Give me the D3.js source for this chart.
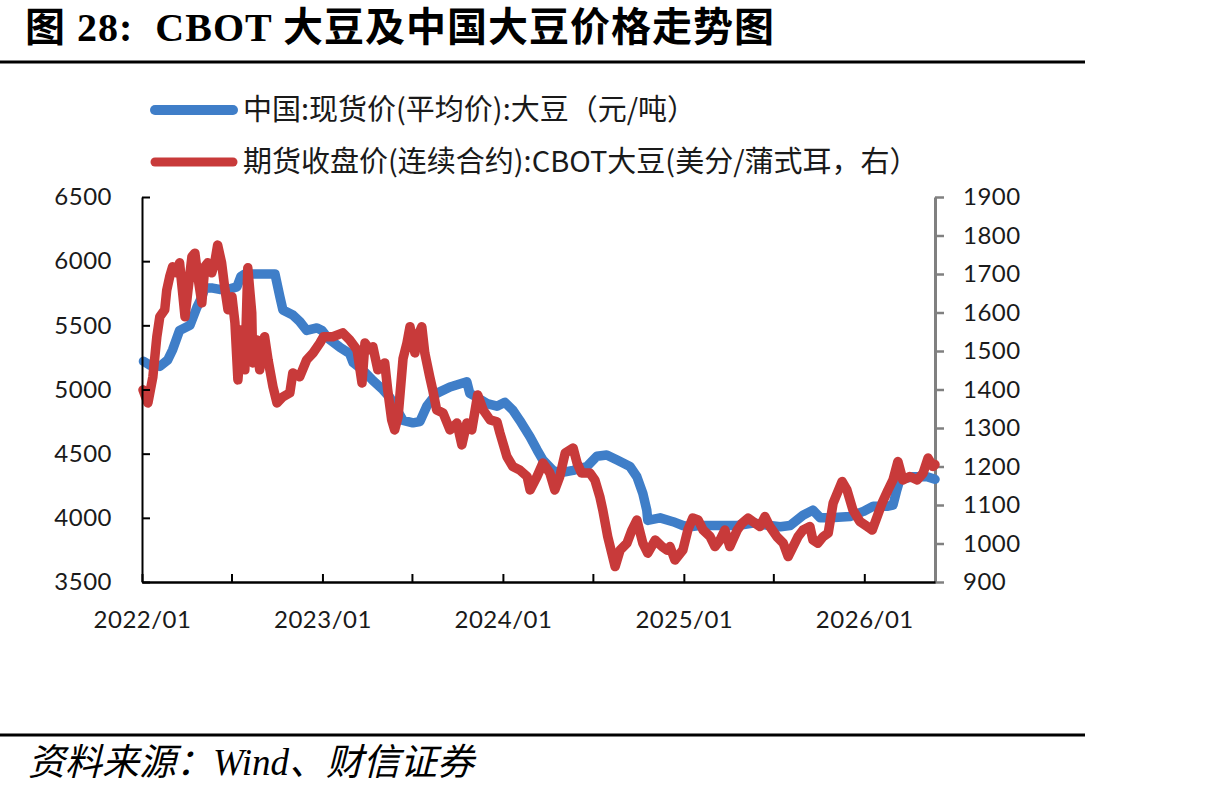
<!DOCTYPE html>
<html>
<head>
<meta charset="utf-8">
<title>CBOT 大豆及中国大豆价格走势图</title>
<script src="https://cdn.jsdelivr.net/npm/d3@7"></script>
<style>
	html, body { margin: 0; padding: 0; background: #fff; }
	svg { display: block; }
</style>
</head>
<body>
<div id="chart"></div>
<script>
(function() {
	'use strict';

	// DATA //

	// 中国:现货价(平均价):大豆 (元/吨, left axis)
	var spotDates = [
		'2022-01-04','2022-01-17','2022-02-06','2022-02-22','2022-03-04','2022-03-18','2022-04-08','2022-04-22',
		'2022-05-02','2022-05-08','2022-05-24','2022-06-07','2022-06-24','2022-07-12','2022-07-20','2022-07-28',
		'2022-09-27','2022-10-07','2022-10-13','2022-11-02','2022-11-16','2022-11-30','2022-12-21','2022-12-31',
		'2023-01-12','2023-02-05','2023-02-25','2023-03-04','2023-03-24','2023-04-13','2023-05-03','2023-05-17',
		'2023-06-01','2023-06-13','2023-07-03','2023-07-17','2023-07-31','2023-08-20','2023-09-16','2023-10-20',
		'2023-10-26','2023-11-09','2023-11-30','2023-12-20','2024-01-05','2024-01-21','2024-02-04','2024-02-25',
		'2024-03-10','2024-03-22','2024-04-11','2024-04-25','2024-05-22','2024-06-19','2024-07-09','2024-07-29',
		'2024-08-19','2024-09-14','2024-09-28','2024-10-10','2024-10-18','2024-10-20','2024-11-14','2024-12-10',
		'2024-12-30','2025-01-13','2025-02-02','2025-04-19','2025-05-21','2025-06-24','2025-07-15','2025-08-04',
		'2025-08-30','2025-09-19','2025-10-04','2025-10-24','2025-12-03','2025-12-30','2026-01-19','2026-02-16',
		'2026-02-28','2026-03-08','2026-03-14','2026-04-10','2026-05-08','2026-05-24'
	];
	var spotValues = [
		5220,5190,5180,5230,5310,5460,5500,5640,
		5720,5790,5790,5780,5780,5800,5880,5900,
		5900,5720,5620,5580,5530,5460,5480,5460,
		5400,5330,5280,5210,5150,5070,5000,4940,
		4840,4760,4740,4750,4870,4970,5020,5060,
		4970,4940,4890,4870,4900,4840,4760,4630,
		4530,4450,4370,4350,4370,4400,4480,4490,
		4450,4400,4320,4190,4060,3980,4000,3970,
		3940,3930,3940,3940,3960,3940,3930,3940,
		4020,4060,4000,4000,4010,4050,4090,4090,
		4100,4220,4300,4320,4320,4300
	];

	// 期货收盘价(连续合约):CBOT大豆 (美分/蒲式耳, right axis)
	var cbotDates = [
		'2022-01-03','2022-01-13','2022-01-23','2022-01-31','2022-02-06','2022-02-16','2022-02-20','2022-02-26',
		'2022-03-04','2022-03-12','2022-03-18','2022-03-25','2022-03-29','2022-04-04','2022-04-12','2022-04-18',
		'2022-04-24','2022-05-02','2022-05-08','2022-05-14','2022-05-22','2022-05-28','2022-06-03','2022-06-11',
		'2022-06-17','2022-06-24','2022-07-02','2022-07-08','2022-07-14','2022-07-22','2022-07-28','2022-08-03',
		'2022-08-11','2022-08-13','2022-08-21','2022-08-27','2022-09-06','2022-09-13','2022-09-23','2022-10-01',
		'2022-10-13','2022-10-27','2022-11-02','2022-11-16','2022-11-30','2022-12-13','2022-12-27','2023-01-03',
		'2023-01-22','2023-02-11','2023-02-25','2023-03-12','2023-03-22','2023-03-28','2023-04-07','2023-04-13',
		'2023-04-23','2023-05-07','2023-05-13','2023-05-21','2023-05-27','2023-06-03','2023-06-13','2023-06-21',
		'2023-06-27','2023-07-07','2023-07-13','2023-07-21','2023-07-27','2023-08-06','2023-08-12','2023-08-20',
		'2023-09-02','2023-09-16','2023-09-30','2023-10-10','2023-10-20','2023-10-30','2023-11-11','2023-11-22',
		'2023-12-06','2023-12-20','2023-12-26','2024-01-09','2024-01-21','2024-02-04','2024-02-19','2024-02-25',
		'2024-03-10','2024-03-22','2024-04-05','2024-04-15','2024-04-25','2024-05-06','2024-05-22','2024-05-30',
		'2024-06-08','2024-06-25','2024-07-05','2024-07-15','2024-07-21','2024-07-31','2024-08-15','2024-08-25',
		'2024-09-08','2024-09-18','2024-09-28','2024-10-10','2024-10-20','2024-11-04','2024-11-18','2024-11-28',
		'2024-12-04','2024-12-14','2024-12-30','2025-01-09','2025-01-19','2025-01-30','2025-02-09','2025-02-23',
		'2025-03-05','2025-03-15','2025-03-25','2025-04-04','2025-04-19','2025-04-29','2025-05-11','2025-05-25',
		'2025-06-04','2025-06-14','2025-06-24','2025-07-08','2025-07-21','2025-07-31','2025-08-10','2025-08-20',
		'2025-08-30','2025-09-13','2025-09-19','2025-09-29','2025-10-10','2025-10-20','2025-10-30','2025-11-17',
		'2025-11-27','2025-12-09','2025-12-23','2026-01-07','2026-01-17','2026-01-27','2026-02-06','2026-02-18',
		'2026-02-28','2026-03-10','2026-03-20','2026-04-03','2026-04-18','2026-04-30','2026-05-10','2026-05-20',
		'2026-05-24'
	];
	var cbotValues = [
		1399,1365,1433,1537,1589,1607,1658,1693,
		1719,1703,1729,1641,1589,1658,1745,1754,
		1693,1625,1719,1729,1703,1729,1775,1729,
		1667,1607,1641,1573,1425,1555,1451,1716,
		1599,1469,1529,1451,1537,1477,1407,1365,
		1381,1391,1443,1433,1477,1495,1521,1537,
		1537,1547,1529,1503,1417,1521,1503,1511,
		1451,1469,1399,1321,1295,1329,1480,1521,
		1563,1495,1540,1563,1495,1433,1399,1347,
		1339,1295,1313,1256,1313,1295,1386,1347,
		1321,1316,1287,1226,1200,1191,1174,1139,
		1174,1209,1183,1139,1174,1235,1248,1209,
		1183,1183,1165,1122,1087,1018,940,983,
		1001,1035,1061,1001,975,1009,992,983,
		992,957,983,1035,1066,1061,1035,1018,
		992,1009,1035,992,1035,1053,1066,1053,
		1044,1070,1044,1018,1001,966,992,1018,
		1035,1044,1009,1001,1018,1027,1105,1161,
		1139,1087,1057,1044,1035,1070,1105,1139,
		1165,1213,1165,1174,1165,1183,1222,1200,
		1205
	];

	// Axis ticks and labels:
	var leftTicks = [3500, 4000, 4500, 5000, 5500, 6000, 6500];
	var rightTicks = [900, 1000, 1100, 1200, 1300, 1400, 1500, 1600, 1700, 1800, 1900];
	var xTickDates = ['2022-01-01','2022-07-01','2023-01-01','2023-07-01','2024-01-01','2024-07-01','2025-01-01','2025-07-01','2026-01-01'];
	var xDomain = ['2022-01-01', '2026-05-24'];

	var legendLabels = [
		'中国:现货价(平均价):大豆（元/吨）',
		'期货收盘价(连续合约):CBOT大豆(美分/蒲式耳，右）'
	];
	var titleText = '图 28:  CBOT 大豆及中国大豆价格走势图';
	var sourceText = '资料来源：Wind、财信证券';


	// CHART //

	var W = 1217,
		H = 795,
		left = 142,
		right = 935,
		top = 197,
		bottom = 582,
		BLUE = '#3f7ec8',
		RED = '#c83a3a',
		tickFont = 'Lato, "Open Sans", sans-serif',
		cjkFont = '"Noto Sans CJK SC", sans-serif',
		parse = d3.timeParse('%Y-%m-%d'),
		plain = d3.format('d'),
		svg, x, yL, yR, spot, cbot, line, legend;

	// Create the canvas:
	svg = d3.select('#chart').append('svg')
		.attr('width', W)
		.attr('height', H)
		.attr('viewBox', '0 0 ' + W + ' ' + H);

	// Title and rules:
	svg.append('text')
		.attr('x', 25)
		.attr('y', 41)
		.attr('font-family', '"Liberation Serif", "Noto Sans CJK SC", serif')
		.attr('font-weight', 'bold')
		.attr('font-size', 40)
		.attr('letter-spacing', 1)
		.style('white-space', 'pre')
		.attr('fill', '#000')
		.text(titleText);

	svg.append('line')
		.attr('x1', 0).attr('x2', 1085)
		.attr('y1', 62).attr('y2', 62)
		.attr('stroke', '#000')
		.attr('stroke-width', 3);

	svg.append('line')
		.attr('x1', 0).attr('x2', 1085)
		.attr('y1', 735).attr('y2', 735)
		.attr('stroke', '#000')
		.attr('stroke-width', 3);

	svg.append('text')
		.attr('x', 28)
		.attr('y', 775)
		.attr('font-family', '"Liberation Serif", "Noto Sans CJK SC", serif')
		.attr('font-style', 'italic')
		.attr('font-size', 37)
		.attr('fill', '#000')
		.text(sourceText);

	// Scales:
	x = d3.scaleTime()
		.domain(xDomain.map(parse))
		.range([left, right]);

	yL = d3.scaleLinear()
		.domain([3500, 6500])
		.range([bottom, top]);

	yR = d3.scaleLinear()
		.domain([900, 1900])
		.range([bottom, top]);

	// Build the point lists:
	spot = spotDates.map(function(d, i) {
		return [parse(d), spotValues[i]];
	});
	cbot = cbotDates.map(function(d, i) {
		return [parse(d), cbotValues[i]];
	});

	// Right axis (grey, ticks outside):
	svg.append('g')
		.attr('class', 'axis right')
		.attr('transform', 'translate(' + right + ',0)')
		.call(d3.axisRight(yR).tickValues(rightTicks).tickFormat(plain).tickSizeInner(9).tickSizeOuter(0).tickPadding(19))
		.call(function(g) {
			g.attr('font-family', tickFont).attr('font-size', 24);
			g.select('.domain').attr('stroke', '#808080').attr('stroke-width', 3);
			g.selectAll('.tick line').attr('stroke', '#808080').attr('stroke-width', 2.5);
			g.selectAll('.tick text').attr('fill', '#1a1a1a').attr('letter-spacing', 0.5);
		});

	// Data lines:
	line = d3.line()
		.x(function(d) { return x(d[0]); });

	svg.append('path')
		.datum(spot)
		.attr('fill', 'none')
		.attr('stroke', BLUE)
		.attr('stroke-width', 9.5)
		.attr('stroke-linejoin', 'round')
		.attr('stroke-linecap', 'round')
		.attr('d', line.y(function(d) { return yL(d[1]); }));

	svg.append('path')
		.datum(cbot)
		.attr('fill', 'none')
		.attr('stroke', RED)
		.attr('stroke-width', 9.5)
		.attr('stroke-linejoin', 'round')
		.attr('stroke-linecap', 'round')
		.attr('d', line.y(function(d) { return yR(d[1]); }));

	// Left axis (ticks inside):
	svg.append('g')
		.attr('class', 'axis left')
		.attr('transform', 'translate(' + left + ',0)')
		.call(d3.axisLeft(yL).tickValues(leftTicks).tickFormat(plain).tickSizeInner(-8).tickSizeOuter(0).tickPadding(30))
		.call(function(g) {
			g.attr('font-family', tickFont).attr('font-size', 24);
			g.select('.domain').attr('stroke', '#000').attr('stroke-width', 2);
			g.selectAll('.tick line').attr('stroke', '#000').attr('stroke-width', 2);
			g.selectAll('.tick text').attr('fill', '#1a1a1a').attr('letter-spacing', 0.5);
		});

	// Bottom axis (ticks inside, labels every January):
	svg.append('g')
		.attr('class', 'axis bottom')
		.attr('transform', 'translate(0,' + bottom + ')')
		.call(d3.axisBottom(x)
			.tickValues(xTickDates.map(parse))
			.tickSizeInner(-8)
			.tickSizeOuter(0)
			.tickPadding(29)
			.tickFormat(function(d) {
				return d.getMonth() === 0 ? d3.timeFormat('%Y/%m')(d) : '';
			}))
		.call(function(g) {
			g.attr('font-family', tickFont).attr('font-size', 24);
			g.select('.domain').attr('stroke', '#000').attr('stroke-width', 2.5);
			g.selectAll('.tick line').attr('stroke', '#000').attr('stroke-width', 2);
			g.selectAll('.tick text').attr('fill', '#1a1a1a').attr('letter-spacing', 0.5);
		});

	// Legend:
	legend = svg.append('g')
		.attr('class', 'legend')
		.selectAll('g')
		.data(legendLabels)
		.enter().append('g')
		.attr('transform', function(d, i) {
			return 'translate(0,' + (110 + i*52) + ')';
		});

	legend.append('line')
		.attr('x1', 155)
		.attr('x2', 233)
		.attr('stroke', function(d, i) { return i === 0 ? BLUE : RED; })
		.attr('stroke-width', function(d, i) { return i === 0 ? 10 : 9; })
		.attr('stroke-linecap', 'round');

	legend.append('text')
		.attr('x', 243)
		.attr('dy', '0.35em')
		.attr('font-family', cjkFont)
		.attr('font-size', 29)
		.attr('fill', '#1a1a1a')
		.text(function(d) { return d; });

})();
</script>
</body>
</html>
